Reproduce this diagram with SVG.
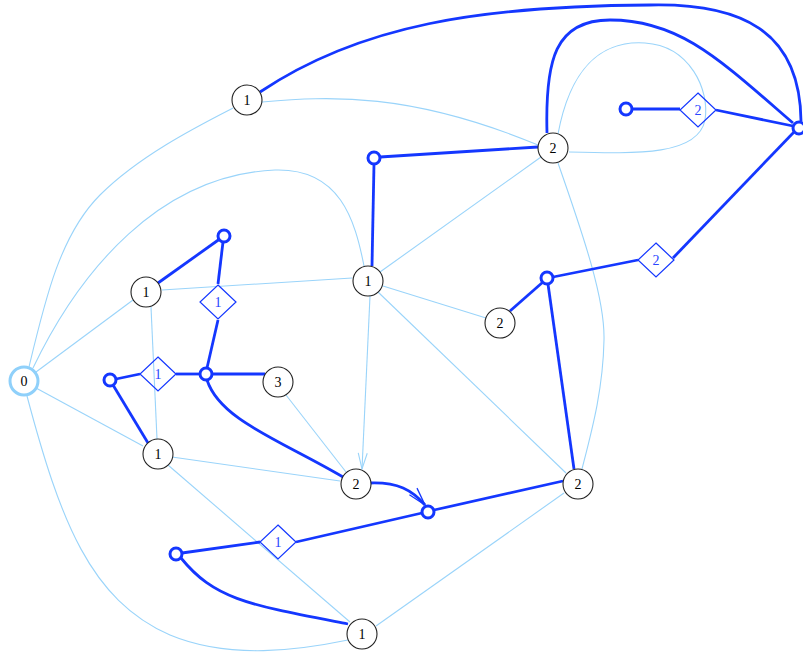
<svg xmlns="http://www.w3.org/2000/svg" width="803" height="660" viewBox="0 0 803 660">
<defs>
<style>
.lt{fill:none;stroke:#9ad4fa;stroke-width:1.1}
.bk{fill:none;stroke:#1437ff;stroke-width:2.8}
.nd circle{fill:#fff;stroke:#222;stroke-width:1.1}
.pt circle{fill:#fff;stroke:#1437ff;stroke-width:3}
.dm polygon{stroke:#1437ff;stroke-width:1.2}
.t{font-family:"Liberation Serif",serif;font-size:14px;text-anchor:middle}
.tb{fill:#2a45ff}
</style>
<marker id="ab" markerUnits="userSpaceOnUse" markerWidth="24" markerHeight="14" refX="20" refY="7" orient="auto" viewBox="0 0 24 14">
<path d="M2,2 L20,7 L2,12" fill="none" stroke="#1437ff" stroke-width="1.3"/>
</marker>
<marker id="al" markerUnits="userSpaceOnUse" markerWidth="20" markerHeight="12" refX="17" refY="6" orient="auto" viewBox="0 0 20 12">
<path d="M1,1.5 L17,6 L1,10.5" fill="none" stroke="#9ad4fa" stroke-width="1.1"/>
</marker>
</defs>
<rect width="803" height="660" fill="#fff"/>
<g id="connectors">
<path class="lt" d="M29,367 C45,300 60,235 100,195 C140,155 200,125 233,108"/>
<path class="lt" d="M33,368 C80,270 160,175 275,170 C340,168 355,220 364,266"/>
<path class="lt" d="M36,372 L133,300"/>
<path class="lt" d="M36,388 L143,446"/>
<path class="lt" d="M27,396 C60,520 90,600 170,635 C230,660 300,650 348,640"/>
<path class="lt" d="M262,102 C330,96 410,92 538,145"/>
<path class="lt" d="M558,134 C570,70 600,40 645,43 C690,46 710,90 705,120 C698,155 640,154 569,152"/>
<path class="lt" d="M541,157 L380,272"/>
<path class="lt" d="M558,163 C585,240 605,300 604,340 C603,390 592,430 582,469"/>
<path class="lt" d="M352,278 L162,290"/>
<path class="lt" d="M383,286 L486,318"/>
<path class="lt" d="M378,292 L566,473"/>
<path class="lt" d="M370,296 L362,469" marker-end="url(#al)"/>
<path class="lt" d="M151,307 L157,439"/>
<path class="lt" d="M286,395 L346,472"/>
<path class="lt" d="M172,457 L340,481"/>
<path class="lt" d="M168,465 L350,622"/>
<path class="lt" d="M564,493 L376,626"/>
<path class="bk" d="M158,283 L219,239.5"/>
<path class="bk" d="M223,242 L218,284"/>
<path class="bk" d="M218,320 L207,368"/>
<path class="bk" d="M212,374 L265,374"/>
<path class="bk" d="M176,374 L200,374"/>
<path class="bk" d="M116,379 L140,374"/>
<path class="bk" d="M113,385 L148,443"/>
<path class="bk" d="M207,380 C220,420 280,440 343,477"/>
<path class="bk" d="M370,483 C398,482 412,490 425,505" marker-end="url(#ab)"/>
<path class="bk" d="M434,510 L563,481"/>
<path class="bk" d="M422,513 L296,542"/>
<path class="bk" d="M260,542 L182,553"/>
<path class="bk" d="M181,558 C215,600 250,605 348,624"/>
<path class="bk" d="M538,147 L380,157"/>
<path class="bk" d="M374,164 L372,266"/>
<path class="bk" d="M510,311 L543,282"/>
<path class="bk" d="M553,277 L638,260"/>
<path class="bk" d="M548,284 L574,469"/>
<path class="bk" d="M673,258 L795,131"/>
<path class="bk" d="M632,109 L680,109"/>
<path class="bk" d="M716,110 L793,126"/>
<path class="bk" d="M260,92 C360,25 480,6 650,5 C740,3 800,30 801,121"/>
<path class="bk" d="M547,133 C545,60 555,20 610,20 C680,20 720,60 793,123"/>
</g>
<g id="n0" class="nd"><circle cx="24" cy="381" r="14" style="stroke:#8fd0fa;stroke-width:3"/><text class="t" x="24" y="386">0</text></g>
<g id="nA" class="nd"><circle cx="247" cy="100" r="15"/><text class="t" x="247" y="105">1</text></g>
<g id="nB" class="nd"><circle cx="553" cy="148" r="15"/><text class="t" x="553" y="153">2</text></g>
<g id="nC" class="nd"><circle cx="368" cy="281" r="15"/><text class="t" x="368" y="286">1</text></g>
<g id="nD" class="nd"><circle cx="146" cy="292" r="15"/><text class="t" x="146" y="297">1</text></g>
<g id="nE" class="nd"><circle cx="500" cy="323" r="15"/><text class="t" x="500" y="328">2</text></g>
<g id="nF" class="nd"><circle cx="278" cy="382" r="15"/><text class="t" x="278" y="387">3</text></g>
<g id="nG" class="nd"><circle cx="158" cy="454" r="15"/><text class="t" x="158" y="459">1</text></g>
<g id="nH" class="nd"><circle cx="356" cy="484" r="15"/><text class="t" x="356" y="489">2</text></g>
<g id="nI" class="nd"><circle cx="578" cy="484" r="15"/><text class="t" x="578" y="489">2</text></g>
<g id="nJ" class="nd"><circle cx="362" cy="634" r="15"/><text class="t" x="362" y="639">1</text></g>
<g id="p1" class="pt"><circle cx="224" cy="236" r="6"/></g>
<g id="p2" class="pt"><circle cx="110" cy="380" r="6"/></g>
<g id="p3" class="pt"><circle cx="206" cy="374" r="6"/></g>
<g id="p4" class="pt"><circle cx="374" cy="158" r="6"/></g>
<g id="p5" class="pt"><circle cx="547" cy="278" r="6"/></g>
<g id="p6" class="pt"><circle cx="626" cy="109" r="6"/></g>
<g id="p7" class="pt"><circle cx="799" cy="128" r="6"/></g>
<g id="p8" class="pt"><circle cx="428" cy="512" r="6"/></g>
<g id="p9" class="pt"><circle cx="176" cy="554" r="6"/></g>
<g id="d1" class="dm"><polygon points="218,285 236,302 218,319 200,302" fill="#fff"/><text class="t tb" x="218" y="307">1</text></g>
<g id="d2" class="dm"><polygon points="158,357 176,374 158,391 140,374" fill="none"/><text class="t tb" x="158" y="379">1</text></g>
<g id="d3" class="dm"><polygon points="698,93 716,110 698,127 680,110" fill="none"/><text class="t tb" x="698" y="115">2</text></g>
<g id="d4" class="dm"><polygon points="656,243 674,260 656,277 638,260" fill="#fff"/><text class="t tb" x="656" y="265">2</text></g>
<g id="d5" class="dm"><polygon points="278,525 296,542 278,559 260,542" fill="#fff"/><text class="t tb" x="278" y="547">1</text></g>
</svg>
